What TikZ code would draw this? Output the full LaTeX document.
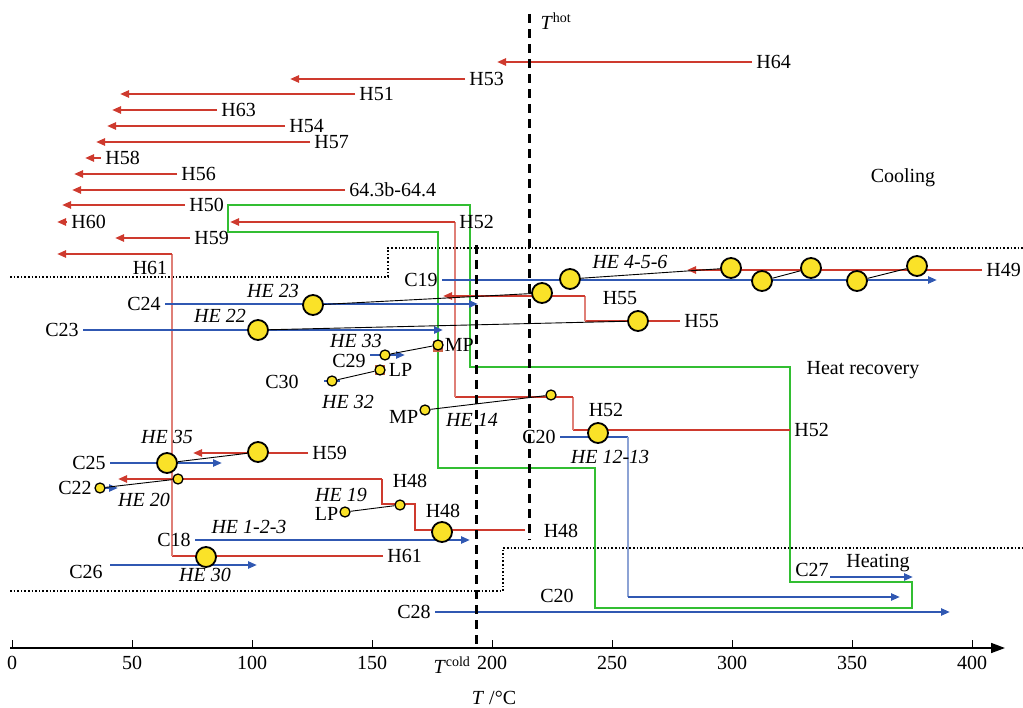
\documentclass[tikz,border=0pt]{standalone}
\usepackage{fontspec}
\setmainfont{Liberation Serif}
\usepackage{xcolor}
\usetikzlibrary{arrows.meta,positioning}
\definecolor{hotred}{RGB}{206,58,46}
\definecolor{coldblue}{RGB}{48,88,178}
\definecolor{hrgreen}{RGB}{50,190,50}
\definecolor{hexyellow}{RGB}{250,226,40}
\definecolor{sqbrown}{RGB}{205,100,70}

\begin{document}
\begin{tikzpicture}[x=1pt,y=-1pt,font=\fontsize{20}{24}\selectfont,
  hot/.style={hotred,line width=2.8pt},
  hotv/.style={hotred!65,line width=2pt},
  cold/.style={coldblue,line width=2.8pt},
  coldv/.style={coldblue!55,line width=2pt},
  tip/.style={-{Triangle[length=9pt,width=7pt]}},
  link/.style={black,line width=0.9pt},
  bigx/.style={circle,draw=black,line width=1.8pt,fill=hexyellow,minimum size=20pt,inner sep=0pt},
  smallx/.style={circle,draw=black,line width=1.3pt,fill=hexyellow,minimum size=10pt,inner sep=0pt},
  bound/.style={black,line width=1.6pt,dotted},
  tline/.style={black,line width=3pt,dash pattern=on 9pt off 6pt},
  helab/.style={font=\fontsize{20}{24}\selectfont\itshape,inner sep=0pt},
  lab/.style={inner sep=3pt,text=black}]
  \useasboundingbox (0,0) rectangle (1023,708);

  % temperature axis
  \draw[line width=1.6pt,-{Triangle[length=14pt,width=10pt]}] (10,648) -- (1005,648);
  \foreach \t in {0,50,...,400}
    \draw[line width=1pt] ({12+2.4*\t},648) -- ({12+2.4*\t},640)
      node[pos=0,below=8pt,inner sep=0pt] {\t};
  \node (tcold) at (452,665) {\textit{T}\textsuperscript{cold}};
  \node (taxis) at (494,698) {\textit{T} /°C};

  % zone boundaries
  \draw[bound] (10,277) -- (388,277) -- (388,248) -- (1023,248);
  \draw[bound] (10,591) -- (503,591) -- (503,548) -- (1023,548);
  \node (cool) at (903,178) {Cooling};
  \node (recov) at (863,370) {Heat recovery};
  \node (heat) at (878,563) {Heating};

  % utility loop
  \draw[hrgreen,line width=2.8pt] (228,205) -- (470,205) -- (470,367) -- (790,367)
    -- (790,582) -- (912,582) -- (912,608) -- (595,608) -- (595,468)
    -- (438,468) -- (438,232) -- (228,232) -- cycle;

  % hot streams to cooling
  \foreach \y/\xr/\xl/\lab [count=\i] in {62/752/497/H64, 79/465/290/H53,
      94/355/120/H51, 110/217/112/H63, 126/285/107/H54, 142/310/96/H57,
      158/101/85/H58, 174/177/74/H56, 190/345/72/64.3b-64.4, 205/185/62/H50,
      222/67/57/H60, 238/190/115/H59}
    \draw[hot,tip] (\xr,\y) node[right,lab] (hl\i) {\lab} -- (\xl,\y);

  % hot streams with heat recovery
  \draw[hot] (383,556) node[right,lab] (h61r) {H61} -- (172,556);
  \draw[hotv] (172,556) -- (172,254);
  \draw[hot,tip] (172,254) -- (57,254);
  \node (h61t) at (150,268) {H61};

  \draw[hot] (790,430) node[right,lab] (h52r) {H52} -- (573,430);
  \draw[hotv] (573,430) -- (573,397);
  \draw[hot] (573,397) -- (455,397);
  \draw[hotv] (455,397) -- (455,222);
  \draw[hot,tip] (455,222) node[right,lab] (h52t) {H52} -- (230,222);
  \node (h52m) at (606,410) {H52};

  \draw[hot] (680,321) node[right,lab] (h55r) {H55} -- (585,321);
  \draw[hotv] (585,321) -- (585,296);
  \draw[hot,tip] (585,296) -- (443,296);
  \node (h55m) at (620,298) {H55};

  \draw[hot,tip] (982,270) node[right,lab] (h49) {H49} -- (687,270);

  \draw[hot] (525,530) -- (415,530) -- (415,504) -- (382,504) -- (382,479);
  \draw[hot,tip] (382,479) -- (118,479);
  \node (h48r) at (561,531) {H48};
  \node (h48a) at (410,481) {H48};
  \node (h48b) at (443,511) {H48};

  \draw[hot,tip] (308,453) node[right,lab] (h59) {H59} -- (193,453);

  % cold streams
  \draw[cold,tip] (442,280) node[left,lab] (c19) {C19} -- (937,280);
  \draw[cold,tip] (165,304) node[left,lab] (c24) {C24} -- (478,304);
  \draw[cold,tip] (83,330) node[left,lab] (c23) {C23} -- (443,330);
  \draw[cold,tip] (370,355) -- (405,355);
  \node (c29) at (349,361) {C29};
  \draw[cold] (324,381) -- (340,381);
  \node (c30) at (282,382) {C30};
  \draw[cold] (560,437) node[left,lab] (c20a) {C20} -- (628,437);
  \draw[coldv] (628,437) -- (628,597);
  \draw[cold,tip] (628,597) -- (900,597);
  \node (c20b) at (557,596) {C20};
  \draw[cold,tip] (110,463) node[left,lab] (c25) {C25} -- (222,463);
  \draw[cold,tip] (100,488) -- (118,488);
  \node (c22) at (75,488) {C22};
  \draw[cold,tip] (195,540) node[left,lab] (c18) {C18} -- (470,540);
  \draw[cold,tip] (110,565) -- (257,565);
  \node (c26) at (86,572) {C26};
  \draw[cold,tip] (830,577) -- (913,577);
  \node (c27) at (812,570) {C27};
  \draw[cold,tip] (435,612) node[left,lab] (c28) {C28} -- (950,612);

  % target temperatures
  \draw[tline] (529,14) -- (529,540);
  \draw[tline] (476,245) -- (476,645);
  \node (thot) at (556,21) {\textit{T}\textsuperscript{hot}};

  % heat exchangers
  \fill[sqbrown] (433,341) rectangle (443,352);
  \fill[sqbrown] (375,365) rectangle (385,375);
  \node[bigx] (x456a) at (570,279) {};
  \node[bigx] (x456b) at (731,268) {};
  \node[bigx] (x456c) at (762,281) {};
  \node[bigx] (x456d) at (811,268) {};
  \node[bigx] (x456e) at (857,281) {};
  \node[bigx] (x456f) at (917,266) {};
  \node[bigx] (x23a) at (313,305) {};
  \node[bigx] (x23b) at (542,293) {};
  \node[bigx] (x22a) at (258,330) {};
  \node[bigx] (x22b) at (638,321) {};
  \node[bigx] (x1213) at (598,433) {};
  \node[bigx] (x123) at (442,532) {};
  \node[bigx] (x30) at (206,557) {};
  \node[bigx] (x35a) at (167,463) {};
  \node[bigx] (x35b) at (258,452) {};
  \node[smallx] (x33a) at (385,355) {};
  \node[smallx] (x33b) at (438,345) {};
  \node[smallx] (x32a) at (332,381) {};
  \node[smallx] (x32b) at (380,370) {};
  \node[smallx] (x14a) at (425,410) {};
  \node[smallx] (x14b) at (551,395) {};
  \node[smallx] (x19a) at (345,512) {};
  \node[smallx] (x19b) at (400,505) {};
  \node[smallx] (x20a) at (100,488) {};
  \node[smallx] (x20b) at (178,479) {};

  \draw[link] (x456a) -- (x456b);
  \draw[link] (x456c) -- (x456d);
  \draw[link] (x456e) -- (x456f);
  \draw[link] (x23a) -- (x23b);
  \draw[link] (x22a) -- (x22b);
  \draw[link] (x35a) -- (x35b);
  \draw[link] (x33a) -- (x33b);
  \draw[link] (x32a) -- (x32b);
  \draw[link] (x14a) -- (x14b);
  \draw[link] (x19a) -- (x19b);
  \draw[link] (x20a) -- (x20b);

  \node[helab] (l456) at (630,262) {HE 4-5-6};
  \node[helab] (l23) at (273,291) {HE 23};
  \node[helab] (l22) at (220,316) {HE 22};
  \node[helab] (l33) at (356,341) {HE 33};
  \node[helab] (l32) at (348,402) {HE 32};
  \node[helab] (l14) at (472,420) {HE 14};
  \node[helab] (l1213) at (610,457) {HE 12-13};
  \node[helab] (l35) at (167,437) {HE 35};
  \node[helab] (l20) at (144,500) {HE 20};
  \node[helab] (l19) at (341,495) {HE 19};
  \node[helab] (l123) at (249,527) {HE 1-2-3};
  \node[helab] (l30) at (205,575) {HE 30};
  \node[right=0pt of x33b,inner sep=1pt] (mp1) {MP};
  \node[right=2pt of x32b,inner sep=1pt] (lp1) {LP};
  \node[left=0pt of x14a,inner sep=1pt,yshift=-7pt] (mp2) {MP};
  \node[left=0pt of x19a,inner sep=1pt,yshift=-2pt] (lp2) {LP};
\end{tikzpicture}
\end{document}
